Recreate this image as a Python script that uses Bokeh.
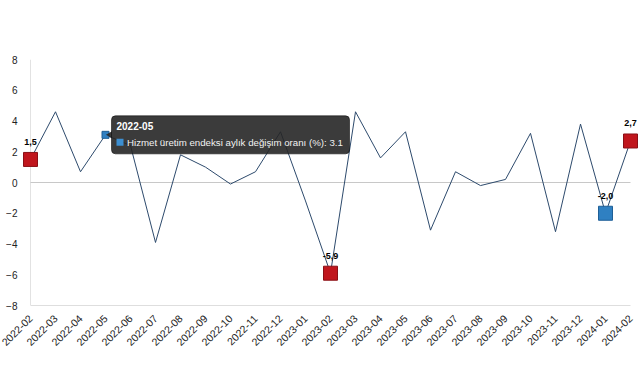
import math
from bokeh.plotting import figure
from bokeh.models import Range1d, FixedTicker, BoxAnnotation, Label
from bokeh.core.properties import value
from bokeh.embed import file_html
from bokeh.resources import INLINE

# ---- data ----
months = ["2022-02", "2022-03", "2022-04", "2022-05", "2022-06", "2022-07",
          "2022-08", "2022-09", "2022-10", "2022-11", "2022-12", "2023-01",
          "2023-02", "2023-03", "2023-04", "2023-05", "2023-06", "2023-07",
          "2023-08", "2023-09", "2023-10", "2023-11", "2023-12", "2024-01",
          "2024-02"]
changes = [1.5, 4.6, 0.7, 3.1, 2.4, -3.9, 1.8, 1.0, -0.1, 0.7, 3.3, -1.2,
           -5.9, 4.6, 1.6, 3.3, -3.1, 0.7, -0.2, 0.2, 3.2, -3.2, 3.8, -2.0,
           2.7]
red_months = ["2022-02", "2023-02", "2024-02"]
blue_months = ["2024-01"]
hover_month = "2022-05"
series_name = "Hizmet üretim endeksi aylık değişim oranı (%)"
y_ticks = [-8, -6, -4, -2, 0, 2, 4, 6, 8]

FONT = "Liberation Sans"
n = len(months)
xs = list(range(n))
idx = {m: i for i, m in enumerate(months)}

pad = 0.32
x_start, x_end = -pad, (n - 1) + pad
y_start, y_end = y_ticks[0], y_ticks[-1]
FW, FH = 616, 246
px_x = FW / (x_end - x_start)
px_y = FH / (y_end - y_start)

p = figure(frame_width=FW, frame_height=FH,
           x_range=Range1d(x_start, x_end), y_range=Range1d(y_start, y_end),
           output_backend="svg", toolbar_location=None,
           min_border_left=22, min_border_right=0, min_border_top=59,
           min_border_bottom=62, outline_line_color=None,
           background_fill_color="white", border_fill_color="white")

p.xgrid.visible = False
p.ygrid.visible = False

# axes
xa = p.xaxis[0]
xa.ticker = FixedTicker(ticks=xs)
xa.major_label_overrides = {i: m for i, m in enumerate(months)}
xa.major_label_orientation = math.pi / 4
xa.major_tick_line_color = None
xa.minor_tick_line_color = None
xa.axis_line_color = "#dedede"
xa.bounds = (0, n - 1)
xa.major_label_text_font = FONT
xa.major_label_text_font_size = "10.5px"
xa.major_label_text_color = "#222222"
xa.major_label_standoff = 5

ya = p.yaxis[0]
ya.ticker = FixedTicker(ticks=y_ticks)
ya.major_tick_line_color = None
ya.minor_tick_line_color = None
ya.major_tick_out = 0
ya.minor_tick_out = 0
ya.axis_line_color = None
ya.major_label_text_font = FONT
ya.major_label_text_font_size = "10px"
ya.major_label_text_color = "#222222"
ya.major_label_standoff = 5

# vertical axis line at the first category, zero line
p.segment(x0=[0], y0=[y_start], x1=[0], y1=[y_end], line_color="#e2e2e2", line_width=1)
p.segment(x0=[0], y0=[0], x1=[n - 1], y1=[0], line_color="#c8c8c8", line_width=1)

# series
p.line(xs, changes, line_color="#2d4a6c", line_width=1)

rx = [idx[m] for m in red_months]
ry = [changes[i] for i in rx]
bx = [idx[m] for m in blue_months]
by = [changes[i] for i in bx]
p.scatter(rx, ry, marker="square", size=14, fill_color="#c0161d",
          line_color="#8a1016", line_width=1)
p.scatter(bx, by, marker="square", size=14, fill_color="#2f80c2",
          line_color="#1f5f96", line_width=1)

hx = idx[hover_month]
hy = changes[hx]
p.scatter([hx], [hy], marker="square", size=7, fill_color="#2f80c2",
          line_color="#1f5f96", line_width=1)

# data labels
lab_x = rx + bx
lab_y = ry + by
p.text(x=lab_x, y=[v + 17.5 / px_y for v in lab_y],
       text=[f"{v:.1f}".replace(".", ",") for v in lab_y],
       text_align="center", text_baseline="middle",
       text_font=value(FONT), text_font_size="9px", text_font_style="bold",
       text_color="#000000")

# tooltip
tip_color = "#262626"
p.scatter([hx + 4.5 / px_x], [hy], marker="triangle", angle=math.pi / 2,
          size=7, fill_color=tip_color, line_color=None, fill_alpha=0.9)
box = BoxAnnotation(left=hx + 6 / px_x, right=hx + 244 / px_x,
                    top=hy + 19 / px_y, bottom=hy - 19 / px_y,
                    fill_color=tip_color, fill_alpha=0.9,
                    line_color="#111111", line_alpha=0.6, line_width=1,
                    border_radius=4)
p.add_layout(box)
sq = BoxAnnotation(left=hx + 11 / px_x, right=hx + 18 / px_x,
                   top=hy - 4 / px_y, bottom=hy - 11 / px_y,
                   fill_color="#3d8fd1", fill_alpha=1.0, line_color=None)
p.add_layout(sq)
p.add_layout(Label(x=hx + 11 / px_x, y=hy + 8.5 / px_y, text=hover_month,
                   text_align="left", text_baseline="middle",
                   text_font=FONT, text_font_size="10px",
                   text_font_style="bold", text_color="#ffffff"))
p.add_layout(Label(x=hx + 21.5 / px_x, y=hy - 7.5 / px_y,
                   text=f"{series_name}: {hy}",
                   text_align="left", text_baseline="middle",
                   text_font=FONT, text_font_size="9.7px",
                   text_color="#f2f2f2"))

open("out.html", "w").write(file_html(p, INLINE))
